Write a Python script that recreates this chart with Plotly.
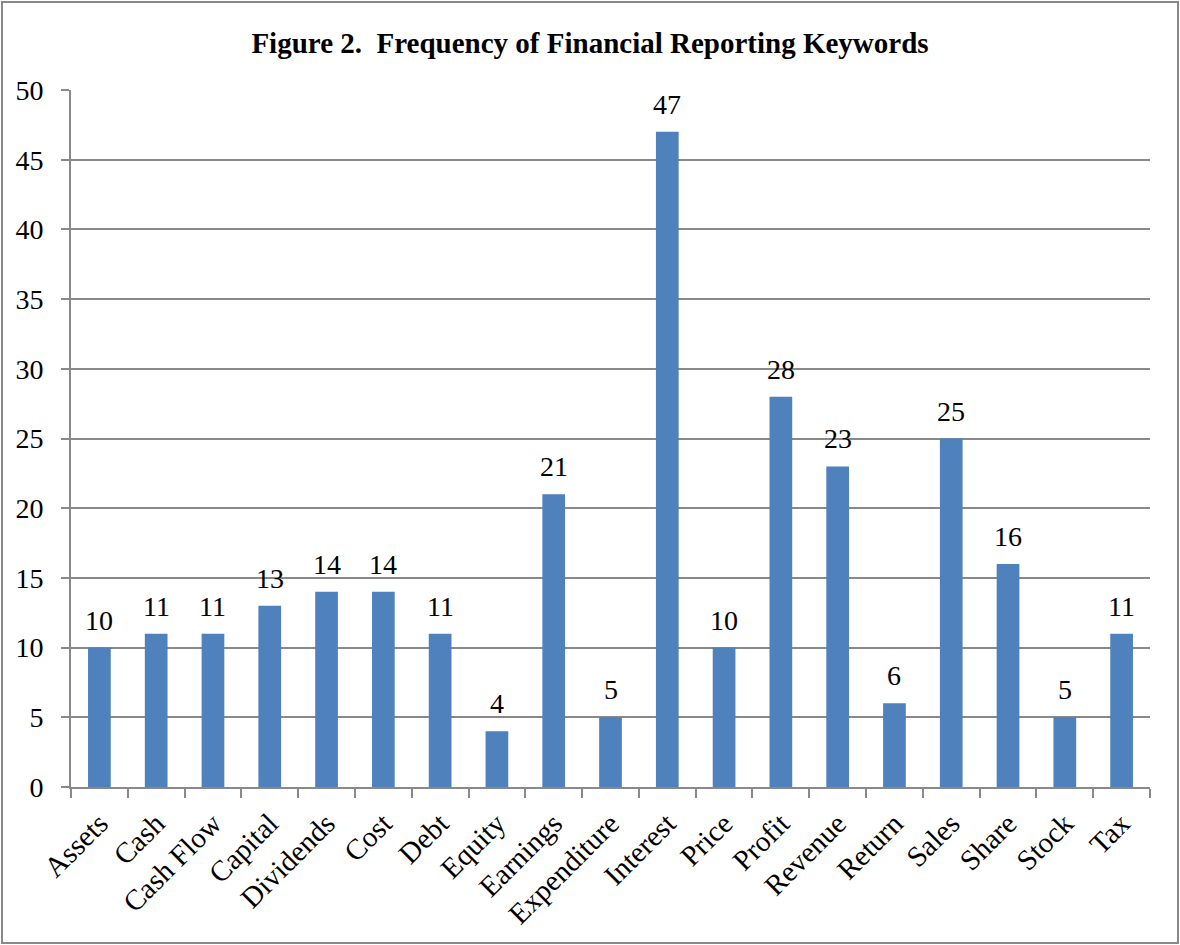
import plotly.graph_objects as go

categories = ["Assets", "Cash", "Cash Flow", "Capital", "Dividends", "Cost", "Debt", "Equity",
              "Earnings", "Expenditure", "Interest", "Price", "Profit", "Revenue", "Return",
              "Sales", "Share", "Stock", "Tax"]
counts = [10, 11, 11, 13, 14, 14, 11, 4, 21, 5, 47, 10, 28, 23, 6, 25, 16, 5, 11]
y_ticks = [0, 5, 10, 15, 20, 25, 30, 35, 40, 45, 50]

FONT = "Liberation Serif, Times New Roman, serif"
GRAY = "#898989"

fig = go.Figure(go.Bar(
    x=categories, y=counts,
    marker=dict(color="#4F81BD", line=dict(width=0)),
    cliponaxis=False,
))

for c, v in zip(categories, counts):
    fig.add_annotation(x=c, y=v, text=str(v), showarrow=False,
                       xanchor="center", yanchor="bottom", yshift=10,
                       font=dict(family=FONT, size=28, color="black"))

L, R, T, B = 71, 30, 90, 158
W, H = 1180, 945
pw, ph = W - L - R, H - T - B

fig.update_layout(
    width=W, height=H,
    margin=dict(l=L, r=R, t=T, b=B),
    paper_bgcolor="white", plot_bgcolor="white",
    bargap=0.6,
    showlegend=False,
    title=dict(text="<b>Figure 2.  Frequency of Financial Reporting Keywords</b>",
               x=0.5, xref="container", xanchor="center", y=1 - 43 / H, yanchor="middle",
               font=dict(family=FONT, size=29, color="black")),
    font=dict(family=FONT, color="black"),
    shapes=[dict(type="rect", xref="paper", yref="paper",
                 x0=(2 - L) / pw, x1=(1178 - L) / pw,
                 y0=(H - B - 943) / ph, y1=(H - B - 2) / ph,
                 line=dict(color=GRAY, width=2), fillcolor="rgba(0,0,0,0)", layer="below")],
)

fig.update_xaxes(
    type="category", tickangle=-45, tickson="boundaries",
    ticks="outside", ticklen=9, tickcolor=GRAY, tickwidth=2,
    showline=True, linecolor=GRAY, linewidth=2,
    showgrid=False,
    tickfont=dict(family=FONT, size=29, color="black"),
    ticklabelstandoff=6,
)
fig.update_yaxes(
    range=[0, 50], tickvals=y_ticks,
    ticks="outside", ticklen=8, tickcolor=GRAY, tickwidth=2,
    showline=True, linecolor=GRAY, linewidth=2,
    showgrid=True, gridcolor=GRAY, gridwidth=2,
    zeroline=False,
    tickfont=dict(family=FONT, size=28, color="black"),
    ticklabelstandoff=12,
)

fig.write_html("out.html")
